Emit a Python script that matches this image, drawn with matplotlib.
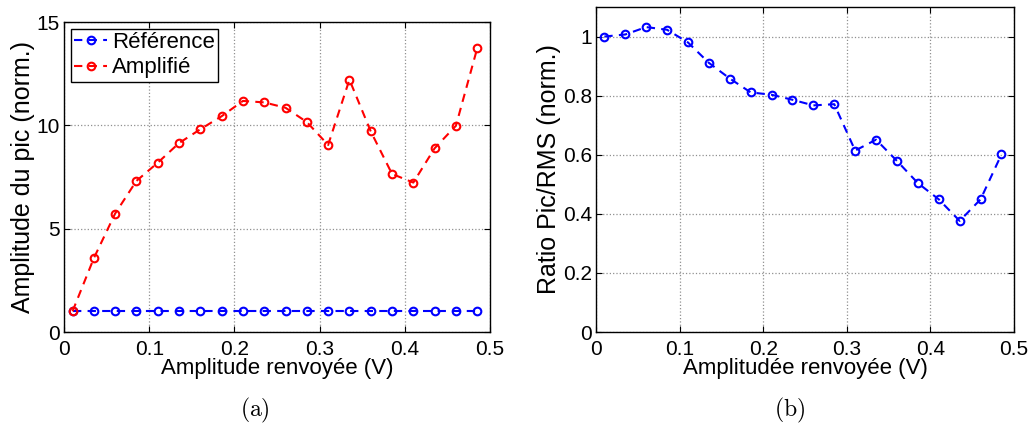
import numpy as np
import matplotlib.pyplot as plt

# data
amp = [0.010, 0.035, 0.060, 0.085, 0.110, 0.135, 0.160, 0.185, 0.210, 0.235,
       0.260, 0.285, 0.310, 0.335, 0.360, 0.385, 0.410, 0.435, 0.460, 0.485]
reference = [1.0] * 20
amplifie = [1.00, 3.57, 5.73, 7.31, 8.19, 9.14, 9.81, 10.44, 11.18, 11.11,
            10.85, 10.16, 9.05, 12.21, 9.71, 7.65, 7.23, 8.89, 9.98, 13.73]
ratio = [1.000, 1.007, 1.032, 1.023, 0.980, 0.911, 0.858, 0.811, 0.803, 0.786,
         0.767, 0.771, 0.614, 0.651, 0.579, 0.504, 0.449, 0.376, 0.449, 0.601]

plt.rcParams['font.family'] = ['Liberation Sans', 'DejaVu Sans']
plt.rcParams['mathtext.fontset'] = 'cm'

W, H = 1033, 430
fig = plt.figure(figsize=(W / 100, H / 100), dpi=100)

def box(x0, y0, x1, y1):
    # pixel box -> figure fraction
    return [x0 / W, 1 - y1 / H, (x1 - x0) / W, (y1 - y0) / H]

def style(ax):
    ax.grid(True, linestyle=':', color='#909090', linewidth=0.9)
    ax.tick_params(direction='in', top=True, right=True, labelsize=15,
                   length=4, width=0.8)
    ax.tick_params(axis='x', pad=6)
    ax.tick_params(axis='y', pad=3)
    for s in ax.spines.values():
        s.set_linewidth(1.0)
    ax.set_xlim(0, 0.5)
    ax.set_xticks([0, 0.1, 0.2, 0.3, 0.4, 0.5])
    ax.set_xticklabels(['0', '0.1', '0.2', '0.3', '0.4', '0.5'])

mk = dict(linestyle='--', marker='o', markersize=5.5, markerfacecolor='none',
          markeredgewidth=1.5, linewidth=1.5, dashes=(4, 3))

# (a)
ax1 = fig.add_axes(box(64, 22, 490, 332))
ax1.plot(amp, reference, color='#0000ff', label='Référence', **mk)
ax1.plot(amp, amplifie, color='#ff0000', label='Amplifié', **mk)
style(ax1)
ax1.set_ylim(0, 15)
ax1.set_yticks([0, 5, 10, 15])
ax1.set_xlabel('Amplitude renvoyée (V)', fontsize=16, labelpad=-1)
ax1.set_ylabel('Amplitude du pic (norm.)', fontsize=18, labelpad=1)
leg = ax1.legend(loc='upper left', fontsize=16, fancybox=False, framealpha=1,
                 edgecolor='black', handlelength=1.5, handletextpad=0.2,
                 borderpad=0.15, labelspacing=0.2, borderaxespad=0.3)
leg.get_frame().set_linewidth(1.0)

# (b)
ax2 = fig.add_axes(box(596, 7, 1014, 332))
ax2.plot(amp, ratio, color='#0000ff', **mk)
style(ax2)
ax2.set_ylim(0, 1.1)
ax2.set_yticks([0, 0.2, 0.4, 0.6, 0.8, 1.0])
ax2.set_yticklabels(['0', '0.2', '0.4', '0.6', '0.8', '1'])
ax2.set_xlabel('Amplitudée renvoyée (V)', fontsize=16, labelpad=-1)
ax2.set_ylabel('Ratio Pic/RMS (norm.)', fontsize=18, labelpad=1)

fig.text(255 / W, 1 - 410 / H, r'$\mathrm{(a)}$', ha='center', va='center', fontsize=17)
fig.text(790 / W, 1 - 410 / H, r'$\mathrm{(b)}$', ha='center', va='center', fontsize=17)

fig.savefig('out.png', dpi=100)
